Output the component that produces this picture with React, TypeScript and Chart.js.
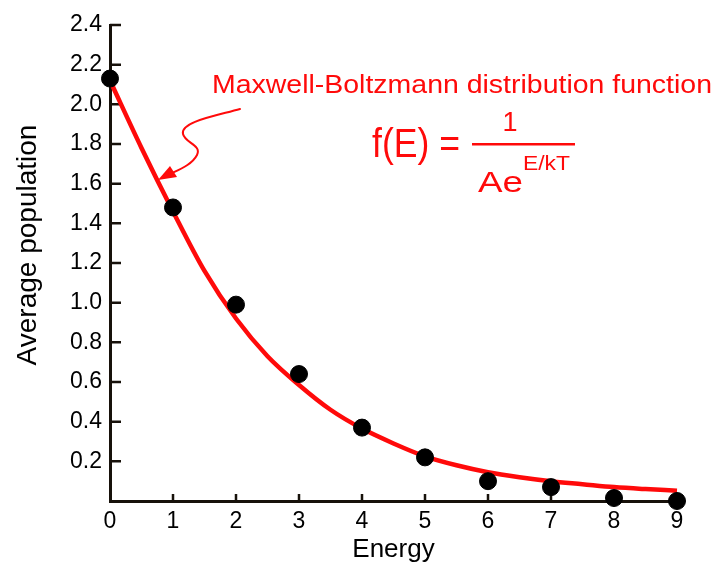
import React, { useEffect, useRef } from "react";
import { Chart, registerables } from "chart.js";

Chart.register(...registerables);

// Measured points
const energyLevels = [0, 1, 2, 3, 4, 5, 6, 7, 8, 9];
const avgPopulation = [2.13, 1.48, 0.99, 0.64, 0.37, 0.22, 0.1, 0.07, 0.015, 0.0];

// Red distribution curve
const curveE = [0, 0.5, 1, 1.5, 2, 2.5, 3, 3.5, 4, 4.5, 5, 5.5, 6, 6.5, 7, 7.5, 8, 8.5, 9, 9.12];
const curveF = [2.12, 1.78, 1.46, 1.16, 0.92, 0.73, 0.585, 0.46, 0.365, 0.29, 0.225, 0.18, 0.145, 0.12, 0.1, 0.085, 0.07, 0.06, 0.052, 0.05];

const yTickValues = [0.2, 0.4, 0.6, 0.8, 1.0, 1.2, 1.4, 1.6, 1.8, 2.0, 2.2, 2.4];
const xTickValues = [1, 2, 3, 4, 5, 6, 7, 8, 9];

const xTitle = "Energy";
const yTitle = "Average population";
const annoTitle = "Maxwell-Boltzmann distribution function";

const FONT = "'Liberation Sans', Arial, Helvetica, sans-serif";
const AXIS = "#17110a";
const RED = "#ff0a0a";

function drawFit(ctx: CanvasRenderingContext2D, text: string, x: number, y: number, size: number, width: number) {
  ctx.save();
  ctx.font = `${size}px ${FONT}`;
  const w = ctx.measureText(text).width;
  ctx.translate(x, y);
  ctx.scale(width / w, 1);
  ctx.textAlign = "left";
  ctx.textBaseline = "alphabetic";
  ctx.fillText(text, 0, 0);
  ctx.restore();
}

const inwardTicks = {
  id: "inwardTicks",
  beforeDatasetsDraw(chart: any) {
    const { ctx, chartArea, scales } = chart;
    ctx.save();
    ctx.strokeStyle = AXIS;
    ctx.lineWidth = 2.5;
    ctx.beginPath();
    yTickValues.forEach((v) => {
      const py = scales.y.getPixelForValue(v);
      ctx.moveTo(chartArea.left, py);
      ctx.lineTo(chartArea.left + 11, py);
    });
    xTickValues.forEach((v) => {
      const px = scales.x.getPixelForValue(v);
      ctx.moveTo(px, chartArea.bottom);
      ctx.lineTo(px, chartArea.bottom - 7);
    });
    ctx.stroke();
    // y axis title (real text)
    ctx.fillStyle = "#000";
    ctx.font = `28px ${FONT}`;
    ctx.textAlign = "center";
    ctx.textBaseline = "alphabetic";
    ctx.translate(36, 245);
    ctx.rotate(-Math.PI / 2);
    ctx.fillText(yTitle, 0, 0);
    ctx.restore();
  },
};

const annotation = {
  id: "annotation",
  afterDraw(chart: any) {
    const { ctx } = chart;
    ctx.save();
    ctx.fillStyle = RED;
    ctx.strokeStyle = RED;
    drawFit(ctx, annoTitle, 212, 93, 25, 500);
    drawFit(ctx, "f(E) =", 372, 157, 41, 88);
    ctx.font = `27px ${FONT}`;
    ctx.textAlign = "center";
    ctx.fillText("1", 510, 131);
    ctx.fillRect(472, 143, 103, 2.5);
    drawFit(ctx, "Ae", 478, 192, 30, 45);
    drawFit(ctx, "E/kT", 523, 170, 21, 47);
    // arrow
    ctx.lineWidth = 2;
    ctx.lineCap = "round";
    ctx.beginPath();
    ctx.moveTo(240, 109);
    ctx.bezierCurveTo(215, 116, 180, 122, 183, 134);
    ctx.bezierCurveTo(185, 143, 202, 145, 197, 155);
    ctx.bezierCurveTo(192, 165, 178, 170, 168, 175);
    ctx.stroke();
    ctx.beginPath();
    ctx.moveTo(158, 180);
    ctx.lineTo(170, 166);
    ctx.lineTo(177, 177);
    ctx.closePath();
    ctx.fill();
    ctx.restore();
  },
};

export default function App() {
  const ref = useRef<HTMLCanvasElement>(null);
  useEffect(() => {
    if (!ref.current) return;
    const chart = new Chart(ref.current, {
      type: "scatter",
      data: {
        datasets: [
          {
            label: "data",
            data: energyLevels.map((e, i) => ({ x: e, y: avgPopulation[i] })),
            backgroundColor: "#000",
            borderColor: "#000",
            pointRadius: 8.5,
            pointHoverRadius: 8.5,
            clip: false,
            order: 0,
          } as any,
          {
            type: "line",
            label: "curve",
            data: curveE.map((e, i) => ({ x: e, y: curveF[i] })),
            borderColor: RED,
            borderWidth: 4.5,
            pointRadius: 0,
            cubicInterpolationMode: "monotone",
            fill: false,
            clip: false,
            order: 1,
          } as any,
        ],
      },
      options: {
        responsive: false,
        animation: false,
        events: [],
        layout: { padding: { top: 25, right: 42, left: 0, bottom: 0 } },
        plugins: { legend: { display: false }, tooltip: { enabled: false } },
        scales: {
          x: {
            type: "linear",
            min: 0,
            max: 9,
            afterFit(scale: any) {
              scale.height = 75;
            },
            border: { display: true, color: AXIS, width: 3 },
            grid: { display: true, drawOnChartArea: false, drawTicks: false, color: "rgba(0,0,0,0)" },
            ticks: {
              stepSize: 1,
              padding: 7,
              color: "#000",
              font: { family: FONT, size: 23 },
              callback: (v: any) => String(v),
            },
            title: {
              display: true,
              text: xTitle,
              color: "#000",
              font: { family: FONT, size: 26 },
              padding: { top: 2, bottom: 11 },
            },
          },
          y: {
            type: "linear",
            min: 0,
            max: 2.4,
            afterFit(scale: any) {
              scale.width = 110;
            },
            border: { display: true, color: AXIS, width: 3 },
            grid: { display: true, drawOnChartArea: false, drawTicks: false, color: "rgba(0,0,0,0)" },
            ticks: {
              stepSize: 0.2,
              padding: 8,
              color: "#000",
              font: { family: FONT, size: 23 },
              callback: (v: any) => (Math.abs(v) < 1e-6 ? "" : Number(v).toFixed(1)),
            },
            title: { display: false },
          },
        },
      },
      plugins: [inwardTicks, annotation],
    });
    return () => chart.destroy();
  }, []);
  return (
    <div style={{ position: "fixed", left: 0, top: 0, width: 719, height: 576, background: "#fff" }}>
      <canvas ref={ref} width={719} height={576} />
    </div>
  );
}
